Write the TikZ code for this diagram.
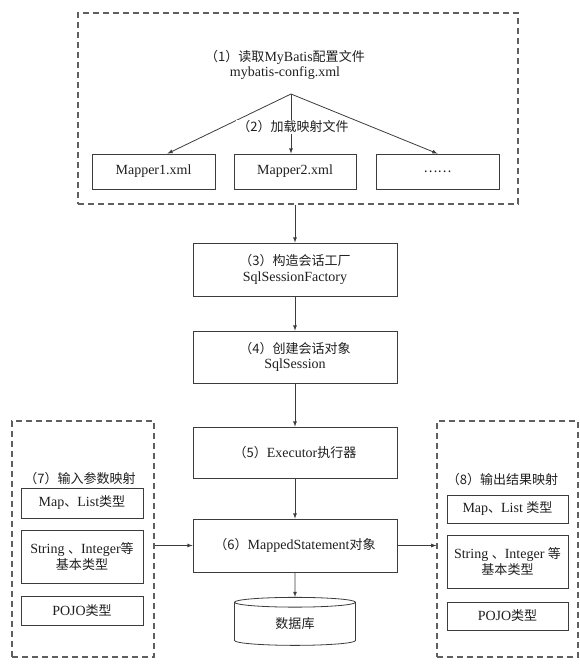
\documentclass[tikz,border=0pt]{standalone}
\usepackage{fontspec}
\setmainfont{Liberation Serif}
\newfontfamily\cjk[Scale=0.93]{Noto Sans CJK SC}
\usepackage{tikz}
\usetikzlibrary{positioning, arrows, shapes.geometric}
\newcommand{\zh}[1]{{\cjk #1}}
\definecolor{edgegray}{RGB}{60,60,60}
\definecolor{dashgray}{RGB}{95,95,95}

\begin{document}
\begin{tikzpicture}[x=1pt, y=-1pt, font=\fontsize{14}{15.5}\selectfont, text=black!88]
\tikzstyle{group}=[draw=dashgray, dash pattern=on 6pt off 4pt, line width=1.2pt, rectangle, inner sep=0pt]
\tikzstyle{box}=[draw=edgegray, rectangle, line width=0.8pt, inner sep=0pt, align=center]
\tikzstyle{store}=[draw=edgegray, cylinder, shape border rotate=90, aspect=0.25, line width=0.8pt, inner sep=0pt, minimum width=121pt, minimum height=48pt]
\tikzstyle{link}=[draw=edgegray, -latex, line width=0.8pt]

\useasboundingbox (0,0) rectangle (580,672);

% configuration and mapper files
\node[group, minimum width=440pt, minimum height=191pt](config-grp) at (298, 108.5) {};
\node[align=center](config) at (285, 65) {\zh{（1）读取}MyBatis\zh{配置文件}\\mybatis-config.xml};
\coordinate (fork) at (291, 94);
\node[box, minimum width=123pt, minimum height=35pt](mapper1) at (153.5, 171.5) {Mapper1.xml};
\node[box, minimum width=122pt, minimum height=35pt](mapper2) at (295, 171.5) {Mapper2.xml};
\node[box, minimum width=123pt, minimum height=35pt](mapper-more) at (437.5, 171.5) {\zh{……}};
\draw[link](fork) -- (mapper1.52);
\draw[link](fork) -- (fork |- mapper2.north);
\draw[link](fork) -- (mapper-more.north);
\node[fill=white, inner sep=1pt](load) at (293, 127) {\zh{（2）加载映射文件}};

% main flow
\node[box, minimum width=204pt, minimum height=53pt](factory) at (295, 269.5) {\zh{（3）构造会话工厂}\\SqlSessionFactory};
\node[box, minimum width=204pt, minimum height=52pt](session) at (295, 357) {\zh{（4）创建会话对象}\\SqlSession};
\node[box, minimum width=204pt, minimum height=51pt](executor) at (295, 452.5) {\zh{（5）}Executor\zh{执行器}};
\node[box, minimum width=204pt, minimum height=53pt](stmt) at (295, 545.5) {\zh{（6）}MappedStatement\zh{对象}};
\node[store](db) at (295, 624) {\zh{数据库}};
\draw[link](config-grp.south -| factory.north) -- (factory);
\draw[link](factory) -- (session);
\draw[link](session) -- (executor);
\draw[link](executor) -- (stmt);
\draw[link](stmt) -- (db);

% input parameter mapping
\node[group, minimum width=142pt, minimum height=236pt](in-grp) at (83, 539) {};
\node(in-label) at (80, 479) {\zh{（7）输入参数映射}};
\node[box, minimum width=122pt, minimum height=30pt](in-map) at (82, 503) {Map\zh{、}List\zh{类型}};
\node[box, minimum width=122pt, minimum height=53pt](in-basic) at (82, 556.5) {String \zh{、}Integer\zh{等}\\\zh{基本类型}};
\node[box, minimum width=122pt, minimum height=29pt](in-pojo) at (82, 610.5) {POJO\zh{类型}};
\draw[link](in-grp.east |- stmt.west) -- (stmt.west);

% output result mapping
\node[group, minimum width=141pt, minimum height=236pt](out-grp) at (507.5, 539) {};
\node(out-label) at (502.5, 480) {\zh{（8）输出结果映射}};
\node[box, minimum width=121pt, minimum height=28pt](out-map) at (507.5, 509) {Map\zh{、}List \zh{类型}};
\node[box, minimum width=121pt, minimum height=53pt](out-basic) at (507.5, 561.5) {String \zh{、}Integer \zh{等}\\\zh{基本类型}};
\node[box, minimum width=121pt, minimum height=28pt](out-pojo) at (507.5, 616) {POJO\zh{类型}};
\draw[link](stmt.east) -- (out-grp.west |- stmt.east);

\end{tikzpicture}
\end{document}
